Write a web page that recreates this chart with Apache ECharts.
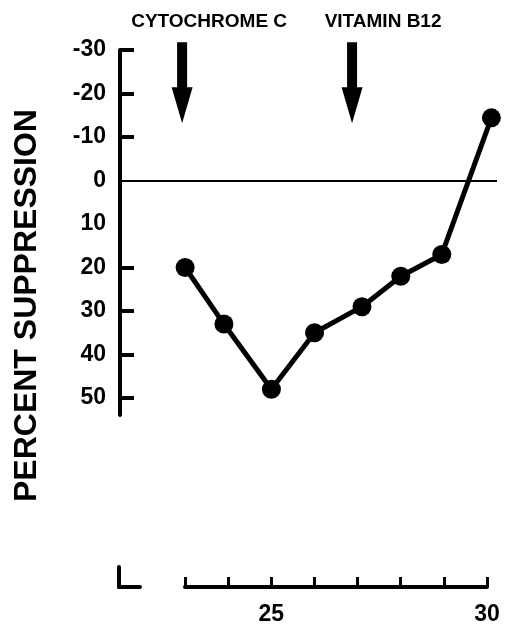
<!DOCTYPE html>
<html>
<head>
<meta charset="utf-8">
<script src="https://cdn.jsdelivr.net/npm/echarts@6/dist/echarts.min.js"></script>
<style>
  html, body { margin: 0; padding: 0; background: #fff; }
  #chart { width: 507px; height: 627px; }
</style>
</head>
<body>
<div id="chart"></div>
<script>
// day of culture vs percent suppression
const days = [23, 23.9, 25, 26, 27.1, 28, 28.95, 30.1];
const suppression = [20, 33, 48, 35, 29, 22, 17, -14.4];

const yTickValues = [-30, -20, -10, 20, 30, 40, 50];
const yLabelValues = [-30, -20, -10, 0, 10, 20, 30, 40, 50];
const xLabelValues = [25, 30];

// additions marked with arrows
const arrowDays = [22.93, 26.87];
const arrowNames = ['CYTOCHROME C', 'VITAMIN B12'];
const arrowLevel = -22.5;
const arrowLabelShift = [27, 31];

const FONT = '"Liberation Sans", Arial, sans-serif';

document.addEventListener("DOMContentLoaded", () => {
    const chart = echarts.init(document.getElementById('chart'));

    const arrowPath = 'path://M5.5,0 L15.5,0 L15.5,45 L21,45 L10.5,81 L0,45 L5.5,45 Z';

    const option = {
        animation: false,
        backgroundColor: '#fff',
        grid: [
            { left: 120, right: 10, top: 50, height: 365, outerBoundsMode: 'none', containLabel: false },
            { left: 185, width: 302, top: 560, height: 27, outerBoundsMode: 'none', containLabel: false },
            { left: 119, width: 21, top: 567, height: 20, outerBoundsMode: 'none', containLabel: false }
        ],
        xAxis: [
            { gridIndex: 0, type: 'value', min: 21.49, max: 30.23, show: false },
            {
                gridIndex: 1, type: 'value', min: 23, max: 30, interval: 1,
                axisLine: { show: true, onZero: false, lineStyle: { color: '#000', width: 4 } },
                axisTick: { show: true, inside: true, length: 10, lineStyle: { color: '#000', width: 3 } },
                axisLabel: {
                    customValues: xLabelValues, margin: 16,
                    color: '#000', fontFamily: FONT, fontWeight: 'bold', fontSize: 23
                },
                splitLine: { show: false }
            },
            {
                gridIndex: 2, type: 'value', min: 0, max: 1,
                axisLine: { show: true, onZero: false, lineStyle: { color: '#000', width: 4 } },
                axisTick: { show: false }, axisLabel: { show: false }, splitLine: { show: false }
            }
        ],
        yAxis: [
            {
                gridIndex: 0, type: 'value', inverse: true, min: -30, max: 53.9,
                name: 'PERCENT SUPPRESSION',
                nameLocation: 'middle',
                nameGap: 77,
                nameTextStyle: {
                    color: '#000', fontFamily: FONT, fontWeight: 'bold', fontSize: 32,
                    padding: [0, 146, 0, 0]
                },
                axisLine: { show: true, onZero: false, lineStyle: { color: '#000', width: 4 } },
                axisTick: {
                    show: true, inside: true, length: 14, customValues: yTickValues,
                    lineStyle: { color: '#000', width: 4 }
                },
                axisLabel: {
                    customValues: yLabelValues, margin: 14,
                    color: '#000', fontFamily: FONT, fontWeight: 'bold', fontSize: 23
                },
                splitLine: { show: false }
            },
            { gridIndex: 1, type: 'value', min: 0, max: 1, show: false },
            {
                gridIndex: 2, type: 'value', min: 0, max: 1,
                axisLine: { show: true, onZero: false, lineStyle: { color: '#000', width: 4 } },
                axisTick: { show: false }, axisLabel: { show: false }, splitLine: { show: false }
            }
        ],
        series: [
            {
                type: 'line',
                xAxisIndex: 0, yAxisIndex: 0,
                data: days.map((d, i) => [d, suppression[i]]),
                symbol: 'circle',
                symbolSize: 19,
                itemStyle: { color: '#000', opacity: 1 },
                lineStyle: { color: '#000', width: 5 },
                z: 5,
                markLine: {
                    silent: true,
                    symbol: 'none',
                    label: { show: false },
                    lineStyle: { color: '#000', width: 2, type: 'solid', opacity: 1 },
                    data: [{ yAxis: 0 }],
                    z: 3
                }
            },
            {
                type: 'scatter',
                xAxisIndex: 0, yAxisIndex: 0,
                symbol: arrowPath,
                symbolSize: [21, 81],
                itemStyle: { color: '#000', opacity: 1 },
                data: arrowDays.map((d, i) => ({
                    value: [d, arrowLevel],
                    name: arrowNames[i],
                    label: { offset: [arrowLabelShift[i], 0] }
                })),
                label: {
                    show: true,
                    position: 'top',
                    distance: 10,
                    formatter: (p) => p.name,
                    color: '#000', fontFamily: FONT, fontWeight: 'bold', fontSize: 19,
                    lineHeight: 20
                }
            }
        ]
    };

    chart.setOption(option);
});
</script>
</body>
</html>
